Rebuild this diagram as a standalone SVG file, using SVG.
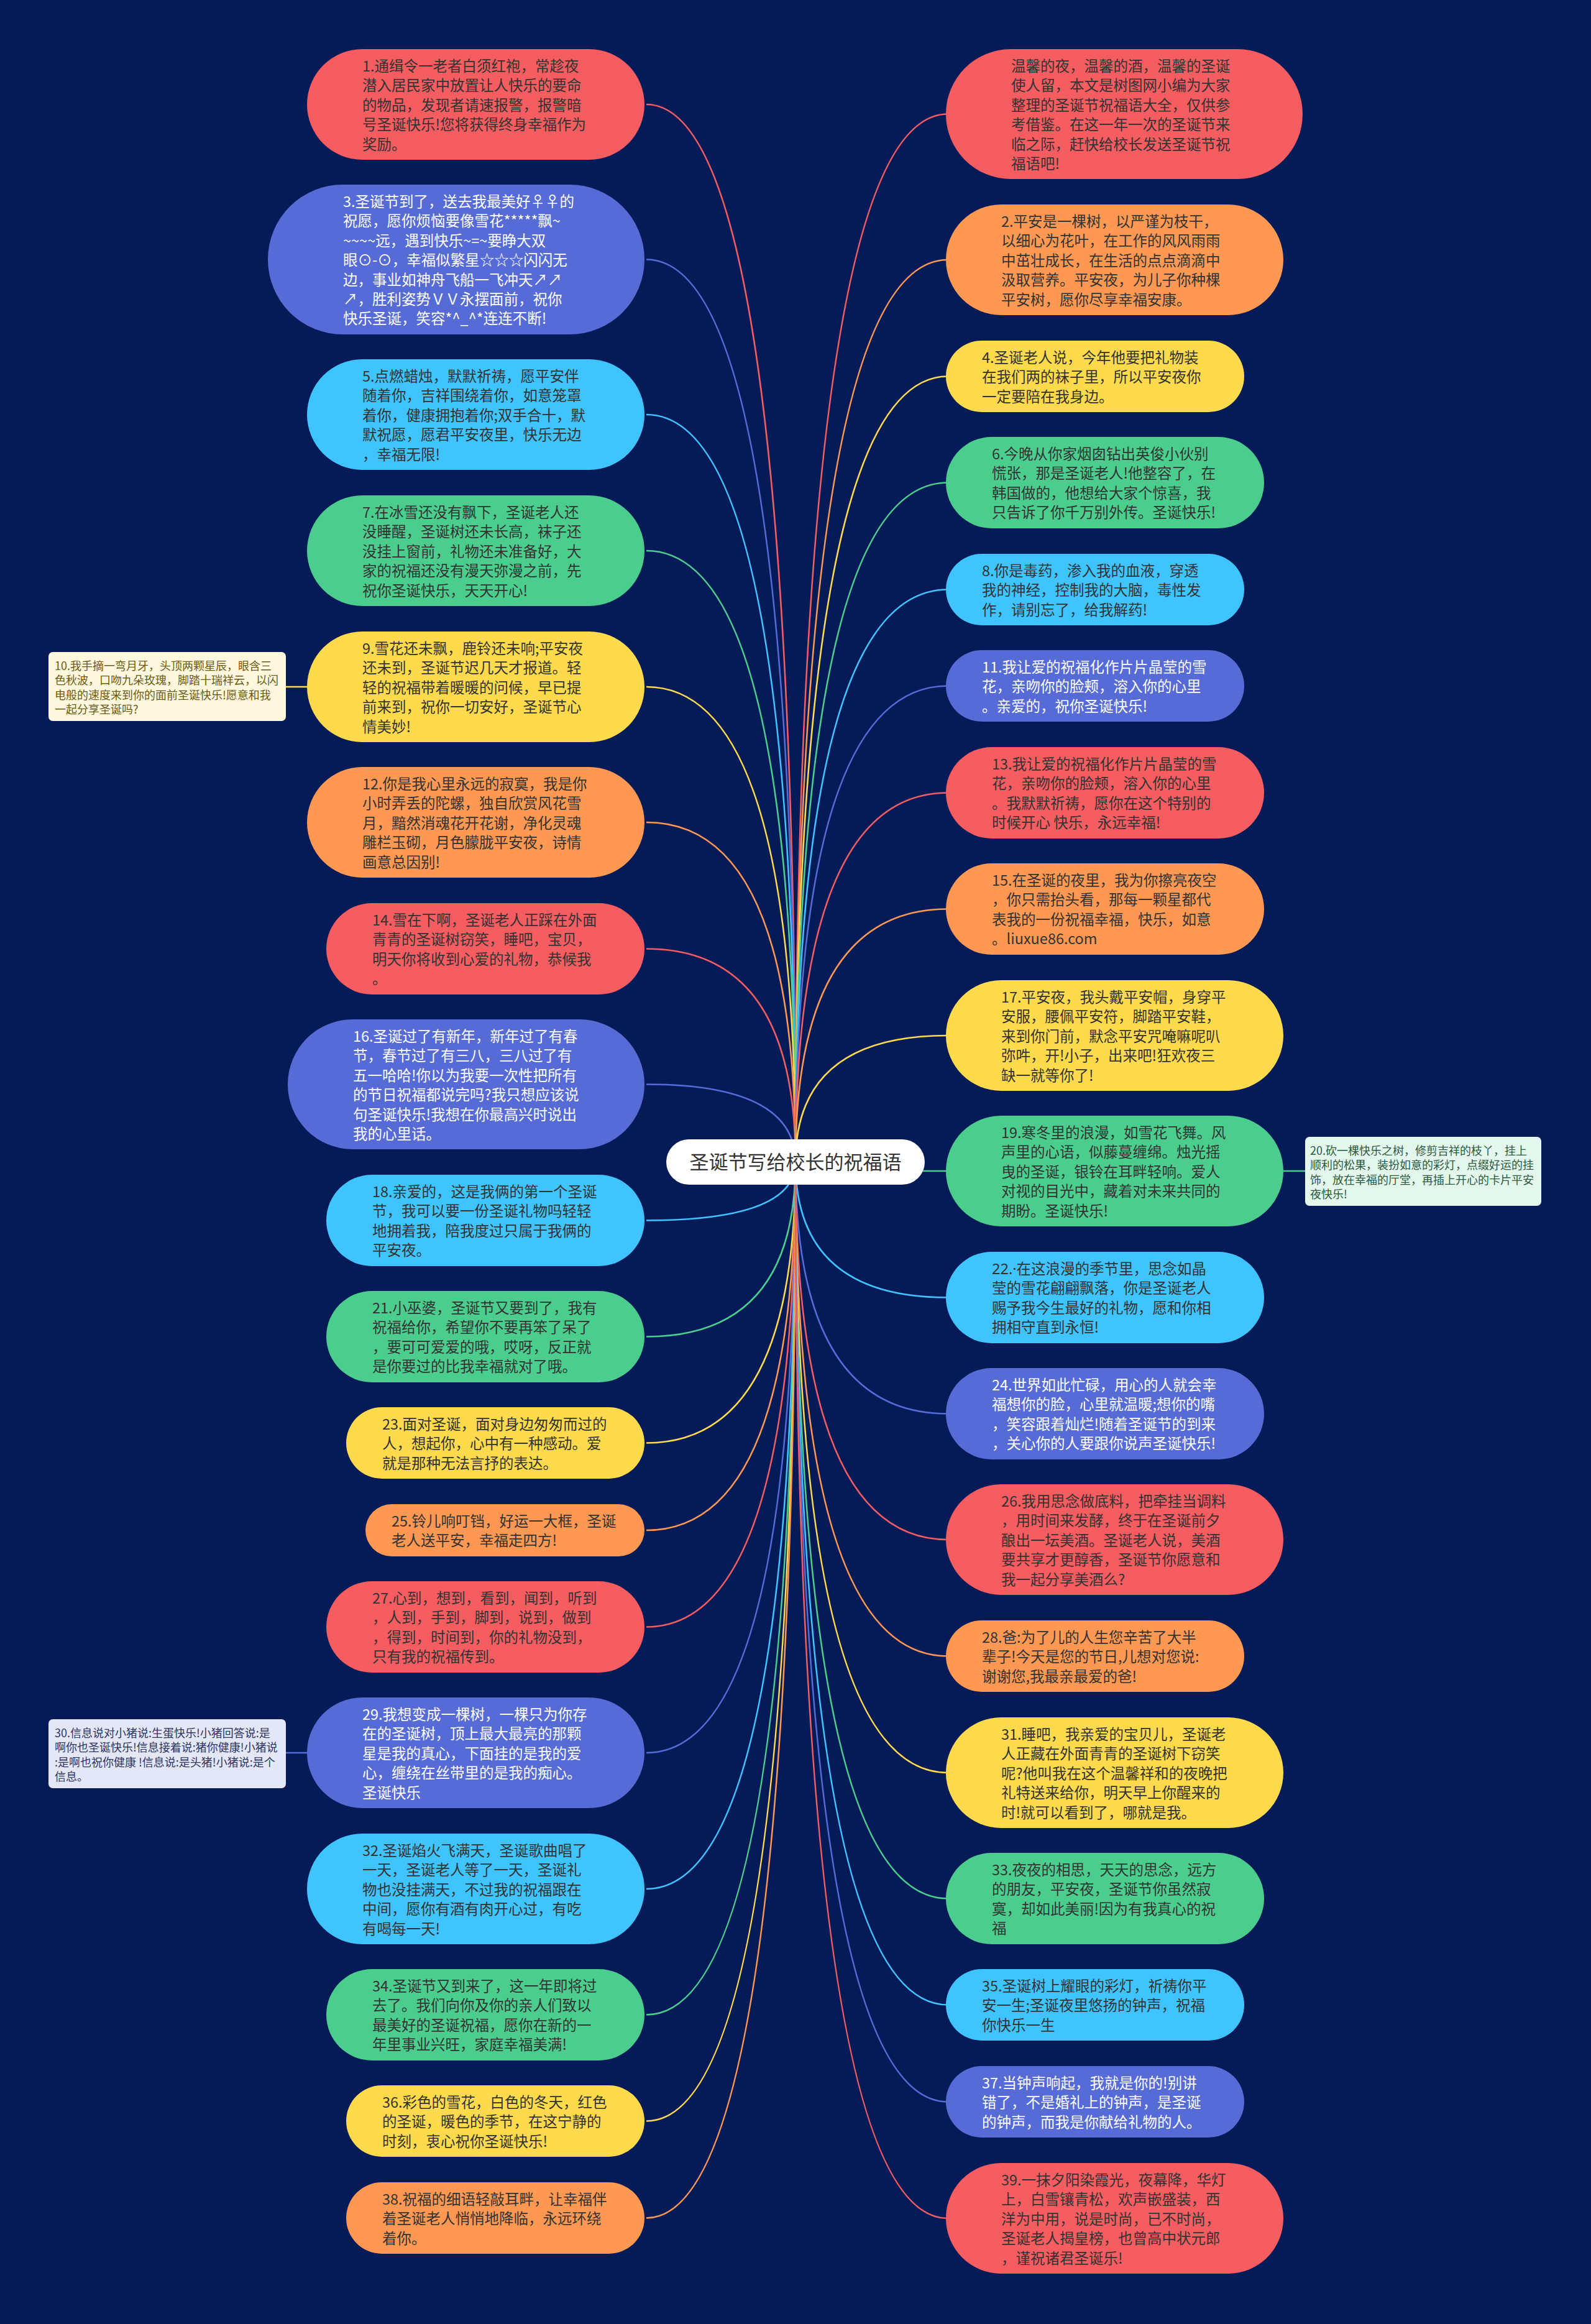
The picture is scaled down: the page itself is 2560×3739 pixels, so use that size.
<svg xmlns="http://www.w3.org/2000/svg" width="2560" height="3739" viewBox="0 0 2560 3739">
<style>
.bg{fill:#041B58}
.red{fill:#F65D61}.vio{fill:#566BD6}.cya{fill:#40C4FF}.grn{fill:#4BCE8D}.yel{fill:#FFDA4C}.org{fill:#FF9852}
.c{fill:none;stroke-width:2.6}
.cr{stroke:#F65D61}.cv{stroke:#566BD6}.cc{stroke:#40C4FF}.cg{stroke:#4BCE8D}.cy{stroke:#FFDA4C}.co{stroke:#FF9852}
text{font-family:"Noto Sans CJK SC","Noto Sans",sans-serif}
.t{font-size:23.5px}
.dk{fill:#333333}.wt{fill:#FFFFFF}
.s{font-size:18px}
.root{font-size:31px;fill:#333333}
.lat{font-family:"Noto Sans",sans-serif}
</style>
<rect class="bg" x="0" y="0" width="2560" height="3739"/>
<g id="connectors">
<path class="c cr" d="M1280 1870 Q1280 168 1040 168"/>
<path class="c cv" d="M1280 1870 Q1280 417.5 1040 417.5"/>
<path class="c cc" d="M1280 1870 Q1280 667 1040 667"/>
<path class="c cg" d="M1280 1870 Q1280 886 1040 886"/>
<path class="c cy" d="M1280 1870 Q1280 1105 1040 1105"/>
<path class="c co" d="M1280 1870 Q1280 1323 1040 1323"/>
<path class="c cr" d="M1280 1870 Q1280 1526.5 1040 1526.5"/>
<path class="c cv" d="M1280 1870 Q1280 1744.5 1040 1744.5"/>
<path class="c cc" d="M1280 1870 Q1280 1963.5 1040 1963.5"/>
<path class="c cg" d="M1280 1870 Q1280 2150.5 1040 2150.5"/>
<path class="c cy" d="M1280 1870 Q1280 2321.5 1040 2321.5"/>
<path class="c co" d="M1280 1870 Q1280 2462 1040 2462"/>
<path class="c cr" d="M1280 1870 Q1280 2617.5 1040 2617.5"/>
<path class="c cv" d="M1280 1870 Q1280 2820 1040 2820"/>
<path class="c cc" d="M1280 1870 Q1280 3039 1040 3039"/>
<path class="c cg" d="M1280 1870 Q1280 3241.5 1040 3241.5"/>
<path class="c cy" d="M1280 1870 Q1280 3412.5 1040 3412.5"/>
<path class="c co" d="M1280 1870 Q1280 3568.5 1040 3568.5"/>
<path class="c cr" d="M1280 1870 Q1280 183.5 1525 183.5"/>
<path class="c co" d="M1280 1870 Q1280 418 1525 418"/>
<path class="c cy" d="M1280 1870 Q1280 605.5 1525 605.5"/>
<path class="c cg" d="M1280 1870 Q1280 776.5 1525 776.5"/>
<path class="c cc" d="M1280 1870 Q1280 948.5 1525 948.5"/>
<path class="c cv" d="M1280 1870 Q1280 1103.5 1525 1103.5"/>
<path class="c cr" d="M1280 1870 Q1280 1275.5 1525 1275.5"/>
<path class="c co" d="M1280 1870 Q1280 1462.5 1525 1462.5"/>
<path class="c cy" d="M1280 1870 Q1280 1666 1525 1666"/>
<path class="c cg" d="M1280 1870 Q1280 1884 1525 1884"/>
<path class="c cc" d="M1280 1870 Q1280 2087.5 1525 2087.5"/>
<path class="c cv" d="M1280 1870 Q1280 2274.5 1525 2274.5"/>
<path class="c cr" d="M1280 1870 Q1280 2477 1525 2477"/>
<path class="c co" d="M1280 1870 Q1280 2664.5 1525 2664.5"/>
<path class="c cy" d="M1280 1870 Q1280 2852 1525 2852"/>
<path class="c cg" d="M1280 1870 Q1280 3054.5 1525 3054.5"/>
<path class="c cc" d="M1280 1870 Q1280 3225.5 1525 3225.5"/>
<path class="c cv" d="M1280 1870 Q1280 3381.5 1525 3381.5"/>
<path class="c cr" d="M1280 1870 Q1280 3569 1525 3569"/>
<path class="c cy" d="M458 1105 L497 1105"/>
<path class="c cg" d="M2062 1884 L2102 1884"/>
<path class="c cv" d="M458 2820 L497 2820"/>
</g>
<g id="root">
<rect x="1072" y="1833" width="416" height="73" rx="36.5" fill="#FFFFFF"/>
<text class="root" x="1280" y="1881" text-anchor="middle">圣诞节写给校长的祝福语</text>
</g>
<g id="n1"><rect class="red" x="494" y="79" width="543" height="178" rx="89"/>
<text class="t dk"><tspan x="583" y="115">1.通缉令一老者白须红袍，常趁夜</tspan><tspan x="583" y="146.4">潜入居民家中放置让人快乐的要命</tspan><tspan x="583" y="177.8">的物品，发现者请速报警，报警暗</tspan><tspan x="583" y="209.2">号圣诞快乐!您将获得终身幸福作为</tspan><tspan x="583" y="240.6">奖励。</tspan></text></g>
<g id="n3"><rect class="vio" x="431" y="297" width="606" height="241" rx="120.5"/>
<text class="t wt"><tspan x="552" y="333">3.圣诞节到了，送去我最美好♀♀的</tspan><tspan x="552" y="364.4">祝愿，愿你烦恼要像雪花*****飘~</tspan><tspan x="552" y="395.8">~~~~远，遇到快乐~=~要睁大双</tspan><tspan x="552" y="427.2">眼⊙-⊙，幸福似繁星☆☆☆闪闪无</tspan><tspan x="552" y="458.6">边，事业如神舟飞船一飞冲天↗↗</tspan><tspan x="552" y="490">↗，胜利姿势ＶＶ永摆面前，祝你</tspan><tspan x="552" y="521.4">快乐圣诞，笑容*^_^*连连不断!</tspan></text></g>
<g id="n5"><rect class="cya" x="494" y="578" width="543" height="178" rx="89"/>
<text class="t dk"><tspan x="583" y="614">5.点燃蜡烛，默默祈祷，愿平安伴</tspan><tspan x="583" y="645.4">随着你，吉祥围绕着你，如意笼罩</tspan><tspan x="583" y="676.8">着你，健康拥抱着你;双手合十，默</tspan><tspan x="583" y="708.2">默祝愿，愿君平安夜里，快乐无边</tspan><tspan x="583" y="739.6">，幸福无限!</tspan></text></g>
<g id="n7"><rect class="grn" x="494" y="797" width="543" height="178" rx="89"/>
<text class="t dk"><tspan x="583" y="833">7.在冰雪还没有飘下，圣诞老人还</tspan><tspan x="583" y="864.4">没睡醒，圣诞树还未长高，袜子还</tspan><tspan x="583" y="895.8">没挂上窗前，礼物还未准备好，大</tspan><tspan x="583" y="927.2">家的祝福还没有漫天弥漫之前，先</tspan><tspan x="583" y="958.6">祝你圣诞快乐，天天开心!</tspan></text></g>
<g id="n9"><rect class="yel" x="494" y="1016" width="543" height="178" rx="89"/>
<text class="t dk"><tspan x="583" y="1052">9.雪花还未飘，鹿铃还未响;平安夜</tspan><tspan x="583" y="1083.4">还未到，圣诞节迟几天才报道。轻</tspan><tspan x="583" y="1114.8">轻的祝福带着暖暖的问候，早已提</tspan><tspan x="583" y="1146.2">前来到，祝你一切安好，圣诞节心</tspan><tspan x="583" y="1177.6">情美妙!</tspan></text></g>
<g id="n10"><rect x="78" y="1049" width="382" height="111" rx="7" fill="#FFF8DE"/>
<text class="s" fill="#6B5A12"><tspan x="88" y="1077.5">10.我手摘一弯月牙，头顶两颗星辰，眼含三</tspan><tspan x="88" y="1101">色秋波，口吻九朵玫瑰，脚踏十瑞祥云，以闪</tspan><tspan x="88" y="1124.5">电般的速度来到你的面前圣诞快乐!愿意和我</tspan><tspan x="88" y="1148">一起分享圣诞吗?</tspan></text></g>
<g id="n12"><rect class="org" x="494" y="1234" width="543" height="178" rx="89"/>
<text class="t dk"><tspan x="583" y="1270">12.你是我心里永远的寂寞，我是你</tspan><tspan x="583" y="1301.4">小时弄丢的陀螺，独自欣赏风花雪</tspan><tspan x="583" y="1332.8">月，黯然消魂花开花谢，净化灵魂</tspan><tspan x="583" y="1364.2">雕栏玉砌，月色朦胧平安夜，诗情</tspan><tspan x="583" y="1395.6">画意总因别!</tspan></text></g>
<g id="n14"><rect class="red" x="525" y="1453" width="512" height="147" rx="73.5"/>
<text class="t dk"><tspan x="599" y="1489">14.雪在下啊，圣诞老人正踩在外面</tspan><tspan x="599" y="1520.4">青青的圣诞树窃笑，睡吧，宝贝，</tspan><tspan x="599" y="1551.8">明天你将收到心爱的礼物，恭候我</tspan><tspan x="599" y="1583.2">。</tspan></text></g>
<g id="n16"><rect class="vio" x="463" y="1640" width="574" height="209" rx="104.5"/>
<text class="t wt"><tspan x="568" y="1676">16.圣诞过了有新年，新年过了有春</tspan><tspan x="568" y="1707.4">节，春节过了有三八，三八过了有</tspan><tspan x="568" y="1738.8">五一哈哈!你以为我要一次性把所有</tspan><tspan x="568" y="1770.2">的节日祝福都说完吗?我只想应该说</tspan><tspan x="568" y="1801.6">句圣诞快乐!我想在你最高兴时说出</tspan><tspan x="568" y="1833">我的心里话。</tspan></text></g>
<g id="n18"><rect class="cya" x="525" y="1890" width="512" height="147" rx="73.5"/>
<text class="t dk"><tspan x="599" y="1926">18.亲爱的，这是我俩的第一个圣诞</tspan><tspan x="599" y="1957.4">节，我可以要一份圣诞礼物吗轻轻</tspan><tspan x="599" y="1988.8">地拥着我，陪我度过只属于我俩的</tspan><tspan x="599" y="2020.2">平安夜。</tspan></text></g>
<g id="n21"><rect class="grn" x="525" y="2077" width="512" height="147" rx="73.5"/>
<text class="t dk"><tspan x="599" y="2113">21.小巫婆，圣诞节又要到了，我有</tspan><tspan x="599" y="2144.4">祝福给你，希望你不要再笨了呆了</tspan><tspan x="599" y="2175.8">，要可可爱爱的哦，哎呀，反正就</tspan><tspan x="599" y="2207.2">是你要过的比我幸福就对了哦。</tspan></text></g>
<g id="n23"><rect class="yel" x="557" y="2264" width="480" height="115" rx="57.5"/>
<text class="t dk"><tspan x="615" y="2300">23.面对圣诞，面对身边匆匆而过的</tspan><tspan x="615" y="2331.4">人，想起你，心中有一种感动。爱</tspan><tspan x="615" y="2362.8">就是那种无法言抒的表达。</tspan></text></g>
<g id="n25"><rect class="org" x="588" y="2420" width="449" height="84" rx="42"/>
<text class="t dk"><tspan x="630" y="2456">25.铃儿响叮铛，好运一大框，圣诞</tspan><tspan x="630" y="2487.4">老人送平安，幸福走四方!</tspan></text></g>
<g id="n27"><rect class="red" x="525" y="2544" width="512" height="147" rx="73.5"/>
<text class="t dk"><tspan x="599" y="2580">27.心到，想到，看到，闻到，听到</tspan><tspan x="599" y="2611.4">，人到，手到，脚到，说到，做到</tspan><tspan x="599" y="2642.8">，得到，时间到，你的礼物没到，</tspan><tspan x="599" y="2674.2">只有我的祝福传到。</tspan></text></g>
<g id="n29"><rect class="vio" x="494" y="2731" width="543" height="178" rx="89"/>
<text class="t wt"><tspan x="583" y="2767">29.我想变成一棵树，一棵只为你存</tspan><tspan x="583" y="2798.4">在的圣诞树，顶上最大最亮的那颗</tspan><tspan x="583" y="2829.8">星是我的真心，下面挂的是我的爱</tspan><tspan x="583" y="2861.2">心，缠绕在丝带里的是我的痴心。</tspan><tspan x="583" y="2892.6">圣诞快乐</tspan></text></g>
<g id="n30"><rect x="78" y="2766" width="382" height="111" rx="7" fill="#E3E7F8"/>
<text class="s" fill="#2E3560"><tspan x="88" y="2794.5">30.信息说对小猪说:生蛋快乐!小猪回答说:是</tspan><tspan x="88" y="2818">啊你也圣诞快乐!信息接着说:猪你健康!小猪说</tspan><tspan x="88" y="2841.5">:是啊也祝你健康 !信息说:是头猪!小猪说:是个</tspan><tspan x="88" y="2865">信息。</tspan></text></g>
<g id="n32"><rect class="cya" x="494" y="2950" width="543" height="178" rx="89"/>
<text class="t dk"><tspan x="583" y="2986">32.圣诞焰火飞满天，圣诞歌曲唱了</tspan><tspan x="583" y="3017.4">一天，圣诞老人等了一天，圣诞礼</tspan><tspan x="583" y="3048.8">物也没挂满天，不过我的祝福跟在</tspan><tspan x="583" y="3080.2">中间，愿你有酒有肉开心过，有吃</tspan><tspan x="583" y="3111.6">有喝每一天!</tspan></text></g>
<g id="n34"><rect class="grn" x="525" y="3168" width="512" height="147" rx="73.5"/>
<text class="t dk"><tspan x="599" y="3204">34.圣诞节又到来了，这一年即将过</tspan><tspan x="599" y="3235.4">去了。我们向你及你的亲人们致以</tspan><tspan x="599" y="3266.8">最美好的圣诞祝福，愿你在新的一</tspan><tspan x="599" y="3298.2">年里事业兴旺，家庭幸福美满!</tspan></text></g>
<g id="n36"><rect class="yel" x="557" y="3355" width="480" height="115" rx="57.5"/>
<text class="t dk"><tspan x="615" y="3391">36.彩色的雪花，白色的冬天，红色</tspan><tspan x="615" y="3422.4">的圣诞，暖色的季节，在这宁静的</tspan><tspan x="615" y="3453.8">时刻，衷心祝你圣诞快乐!</tspan></text></g>
<g id="n38"><rect class="org" x="557" y="3511" width="480" height="115" rx="57.5"/>
<text class="t dk"><tspan x="615" y="3547">38.祝福的细语轻敲耳畔，让幸福伴</tspan><tspan x="615" y="3578.4">着圣诞老人悄悄地降临，永远环绕</tspan><tspan x="615" y="3609.8">着你。</tspan></text></g>
<g id="n0"><rect class="red" x="1522" y="79" width="574" height="209" rx="104.5"/>
<text class="t dk"><tspan x="1627" y="115">温馨的夜，温馨的酒，温馨的圣诞</tspan><tspan x="1627" y="146.4">使人留，本文是树图网小编为大家</tspan><tspan x="1627" y="177.8">整理的圣诞节祝福语大全，仅供参</tspan><tspan x="1627" y="209.2">考借鉴。在这一年一次的圣诞节来</tspan><tspan x="1627" y="240.6">临之际，赶快给校长发送圣诞节祝</tspan><tspan x="1627" y="272">福语吧!</tspan></text></g>
<g id="n2"><rect class="org" x="1522" y="329" width="543" height="178" rx="89"/>
<text class="t dk"><tspan x="1611" y="365">2.平安是一棵树，以严谨为枝干，</tspan><tspan x="1611" y="396.4">以细心为花叶，在工作的风风雨雨</tspan><tspan x="1611" y="427.8">中茁壮成长，在生活的点点滴滴中</tspan><tspan x="1611" y="459.2">汲取营养。平安夜，为儿子你种棵</tspan><tspan x="1611" y="490.6">平安树，愿你尽享幸福安康。</tspan></text></g>
<g id="n4"><rect class="yel" x="1522" y="548" width="480" height="115" rx="57.5"/>
<text class="t dk"><tspan x="1580" y="584">4.圣诞老人说，今年他要把礼物装</tspan><tspan x="1580" y="615.4">在我们两的袜子里，所以平安夜你</tspan><tspan x="1580" y="646.8">一定要陪在我身边。</tspan></text></g>
<g id="n6"><rect class="grn" x="1522" y="703" width="512" height="147" rx="73.5"/>
<text class="t dk"><tspan x="1596" y="739">6.今晚从你家烟囱钻出英俊小伙别</tspan><tspan x="1596" y="770.4">慌张，那是圣诞老人!他整容了，在</tspan><tspan x="1596" y="801.8">韩国做的，他想给大家个惊喜，我</tspan><tspan x="1596" y="833.2">只告诉了你千万别外传。圣诞快乐!</tspan></text></g>
<g id="n8"><rect class="cya" x="1522" y="891" width="480" height="115" rx="57.5"/>
<text class="t dk"><tspan x="1580" y="927">8.你是毒药，渗入我的血液，穿透</tspan><tspan x="1580" y="958.4">我的神经，控制我的大脑，毒性发</tspan><tspan x="1580" y="989.8">作，请别忘了，给我解药!</tspan></text></g>
<g id="n11"><rect class="vio" x="1522" y="1046" width="480" height="115" rx="57.5"/>
<text class="t wt"><tspan x="1580" y="1082">11.我让爱的祝福化作片片晶莹的雪</tspan><tspan x="1580" y="1113.4">花，亲吻你的脸颊，溶入你的心里</tspan><tspan x="1580" y="1144.8">。亲爱的，祝你圣诞快乐!</tspan></text></g>
<g id="n13"><rect class="red" x="1522" y="1202" width="512" height="147" rx="73.5"/>
<text class="t dk"><tspan x="1596" y="1238">13.我让爱的祝福化作片片晶莹的雪</tspan><tspan x="1596" y="1269.4">花，亲吻你的脸颊，溶入你的心里</tspan><tspan x="1596" y="1300.8">。我默默祈祷，愿你在这个特别的</tspan><tspan x="1596" y="1332.2">时候开心 快乐，永远幸福!</tspan></text></g>
<g id="n15"><rect class="org" x="1522" y="1389" width="512" height="147" rx="73.5"/>
<text class="t dk"><tspan x="1596" y="1425">15.在圣诞的夜里，我为你擦亮夜空</tspan><tspan x="1596" y="1456.4">，你只需抬头看，那每一颗星都代</tspan><tspan x="1596" y="1487.8">表我的一份祝福幸福，快乐，如意</tspan><tspan x="1596" y="1519.2">。liuxue86.com</tspan></text></g>
<g id="n17"><rect class="yel" x="1522" y="1577" width="543" height="178" rx="89"/>
<text class="t dk"><tspan x="1611" y="1613">17.平安夜，我头戴平安帽，身穿平</tspan><tspan x="1611" y="1644.4">安服，腰佩平安符，脚踏平安鞋，</tspan><tspan x="1611" y="1675.8">来到你门前，默念平安咒唵嘛呢叭</tspan><tspan x="1611" y="1707.2">弥吽，开!小子，出来吧!狂欢夜三</tspan><tspan x="1611" y="1738.6">缺一就等你了!</tspan></text></g>
<g id="n19"><rect class="grn" x="1522" y="1795" width="543" height="178" rx="89"/>
<text class="t dk"><tspan x="1611" y="1831">19.寒冬里的浪漫，如雪花飞舞。风</tspan><tspan x="1611" y="1862.4">声里的心语，似藤蔓缠绵。烛光摇</tspan><tspan x="1611" y="1893.8">曳的圣诞，银铃在耳畔轻响。爱人</tspan><tspan x="1611" y="1925.2">对视的目光中，藏着对未来共同的</tspan><tspan x="1611" y="1956.6">期盼。圣诞快乐!</tspan></text></g>
<g id="n20"><rect x="2100" y="1829" width="380" height="111" rx="7" fill="#E3F7EC"/>
<text class="s" fill="#2B5A40"><tspan x="2108" y="1857.5">20.砍一棵快乐之树，修剪吉祥的枝丫，挂上</tspan><tspan x="2108" y="1881">顺利的松果，装扮如意的彩灯，点缀好运的挂</tspan><tspan x="2108" y="1904.5">饰，放在幸福的厅堂，再插上开心的卡片平安</tspan><tspan x="2108" y="1928">夜快乐!</tspan></text></g>
<g id="n22"><rect class="cya" x="1522" y="2014" width="512" height="147" rx="73.5"/>
<text class="t dk"><tspan x="1596" y="2050"><tspan class="lat">22.·</tspan>在这浪漫的季节里，思念如晶</tspan><tspan x="1596" y="2081.4">莹的雪花翩翩飘落，你是圣诞老人</tspan><tspan x="1596" y="2112.8">赐予我今生最好的礼物，愿和你相</tspan><tspan x="1596" y="2144.2">拥相守直到永恒!</tspan></text></g>
<g id="n24"><rect class="vio" x="1522" y="2201" width="512" height="147" rx="73.5"/>
<text class="t wt"><tspan x="1596" y="2237">24.世界如此忙碌，用心的人就会幸</tspan><tspan x="1596" y="2268.4">福想你的脸，心里就温暖;想你的嘴</tspan><tspan x="1596" y="2299.8">，笑容跟着灿烂!随着圣诞节的到来</tspan><tspan x="1596" y="2331.2">，关心你的人要跟你说声圣诞快乐!</tspan></text></g>
<g id="n26"><rect class="red" x="1522" y="2388" width="543" height="178" rx="89"/>
<text class="t dk"><tspan x="1611" y="2424">26.我用思念做底料，把牵挂当调料</tspan><tspan x="1611" y="2455.4">，用时间来发酵，终于在圣诞前夕</tspan><tspan x="1611" y="2486.8">酿出一坛美酒。圣诞老人说，美酒</tspan><tspan x="1611" y="2518.2">要共享才更醇香，圣诞节你愿意和</tspan><tspan x="1611" y="2549.6">我一起分享美酒么?</tspan></text></g>
<g id="n28"><rect class="org" x="1522" y="2607" width="480" height="115" rx="57.5"/>
<text class="t dk"><tspan x="1580" y="2643">28.爸:为了儿的人生您辛苦了大半</tspan><tspan x="1580" y="2674.4">辈子!今天是您的节日,儿想对您说:</tspan><tspan x="1580" y="2705.8">谢谢您,我最亲最爱的爸!</tspan></text></g>
<g id="n31"><rect class="yel" x="1522" y="2763" width="543" height="178" rx="89"/>
<text class="t dk"><tspan x="1611" y="2799">31.睡吧，我亲爱的宝贝儿，圣诞老</tspan><tspan x="1611" y="2830.4">人正藏在外面青青的圣诞树下窃笑</tspan><tspan x="1611" y="2861.8">呢?他叫我在这个温馨祥和的夜晚把</tspan><tspan x="1611" y="2893.2">礼特送来给你，明天早上你醒来的</tspan><tspan x="1611" y="2924.6">时!就可以看到了，哪就是我。</tspan></text></g>
<g id="n33"><rect class="grn" x="1522" y="2981" width="512" height="147" rx="73.5"/>
<text class="t dk"><tspan x="1596" y="3017">33.夜夜的相思，天天的思念，远方</tspan><tspan x="1596" y="3048.4">的朋友，平安夜，圣诞节你虽然寂</tspan><tspan x="1596" y="3079.8">寞，却如此美丽!因为有我真心的祝</tspan><tspan x="1596" y="3111.2">福</tspan></text></g>
<g id="n35"><rect class="cya" x="1522" y="3168" width="480" height="115" rx="57.5"/>
<text class="t dk"><tspan x="1580" y="3204">35.圣诞树上耀眼的彩灯，祈祷你平</tspan><tspan x="1580" y="3235.4">安一生;圣诞夜里悠扬的钟声，祝福</tspan><tspan x="1580" y="3266.8">你快乐一生</tspan></text></g>
<g id="n37"><rect class="vio" x="1522" y="3324" width="480" height="115" rx="57.5"/>
<text class="t wt"><tspan x="1580" y="3360">37.当钟声响起，我就是你的!别讲</tspan><tspan x="1580" y="3391.4">错了，不是婚礼上的钟声，是圣诞</tspan><tspan x="1580" y="3422.8">的钟声，而我是你献给礼物的人。</tspan></text></g>
<g id="n39"><rect class="red" x="1522" y="3480" width="543" height="178" rx="89"/>
<text class="t dk"><tspan x="1611" y="3516">39.一抹夕阳染霞光，夜幕降，华灯</tspan><tspan x="1611" y="3547.4">上，白雪镶青松，欢声嵌盛装，西</tspan><tspan x="1611" y="3578.8">洋为中用，说是时尚，已不时尚，</tspan><tspan x="1611" y="3610.2">圣诞老人揭皇榜，也曾高中状元郎</tspan><tspan x="1611" y="3641.6">，谨祝诸君圣诞乐!</tspan></text></g>
</svg>
